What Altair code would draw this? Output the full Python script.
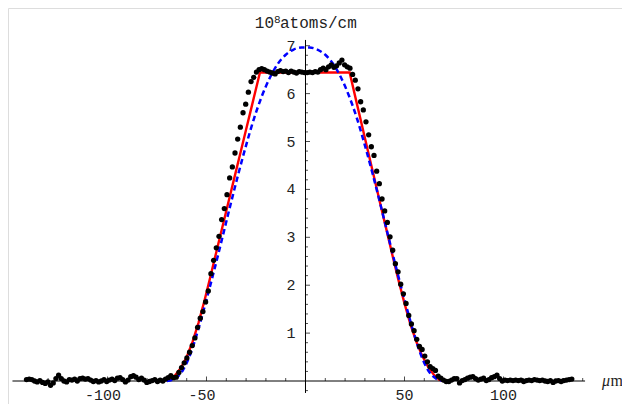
import altair as alt
import pandas as pd

# ---- measured data (black dots), sampled on a uniform grid ----
dots_x_start = -140.9
dots_x_step = 1.35
dots_y = [
    0.03, 0.04, 0.03, 0.00, -0.02, 0.01, -0.03, -0.05, -0.02, -0.09,
    -0.04, 0.05, 0.12, 0.05, 0.00, -0.02, 0.03, 0.02, 0.04, 0.00,
    0.05, 0.06, 0.04, 0.05, 0.02, -0.01, 0.01, -0.02, 0.00, 0.03,
    -0.01, 0.02, 0.04, 0.01, 0.06, 0.07, 0.03, -0.02, 0.02, 0.09,
    0.11, 0.08, 0.03, 0.06, 0.02, -0.03, -0.01, 0.01, 0.03, -0.01,
    0.02, 0.00, 0.04, 0.07, 0.11,
    0.07, 0.08, 0.18, 0.28, 0.38, 0.48, 0.60, 0.74, 0.90, 1.12,
    1.31, 1.45, 1.65, 1.88, 2.24, 2.52, 2.78, 3.02, 3.37, 3.60,
    3.89, 4.24, 4.47, 4.76, 5.05, 5.30, 5.60, 5.78, 6.03, 6.25,
    6.34, 6.45,
    6.50, 6.52, 6.50, 6.47, 6.45, 6.43, 6.41, 6.46, 6.48, 6.46,
    6.47, 6.44, 6.47, 6.45, 6.43, 6.46, 6.45, 6.44,
    6.44, 6.45, 6.44, 6.46, 6.45, 6.50, 6.53, 6.50, 6.56, 6.60,
    6.55, 6.58, 6.64, 6.70, 6.60, 6.56, 6.53, 6.40, 6.28, 6.10,
    5.83, 5.66, 5.41, 5.14, 4.89, 4.71, 4.38, 4.12, 3.80, 3.55,
    3.31, 3.01, 2.73, 2.45, 2.28, 2.02, 1.82, 1.62, 1.37, 1.19,
    1.05, 0.87, 0.72, 0.66, 0.52, 0.40, 0.30, 0.26, 0.22, 0.10,
    0.06, 0.02, -0.01, -0.01, 0.02, 0.05, 0.05,
    -0.04, 0.01, 0.03, 0.06, 0.08, 0.09, 0.05, 0.02, 0.04, 0.06,
    0.01, 0.03, 0.07, 0.09, 0.12, 0.05, 0.00, 0.02, 0.01, 0.02,
    0.01, 0.02, 0.01, 0.02, -0.01, 0.01, 0.02, 0.01, 0.03, 0.02,
    0.01, 0.02, 0.00, -0.01, 0.01, -0.03, 0.00, 0.01, -0.01, 0.01,
    0.02, 0.03, 0.04,
]
dots_x = [round(dots_x_start + dots_x_step * i, 2) for i in range(len(dots_y))]

# ---- red (solid) model curve ----
red_x = [-70, -68, -66, -63, -60, -57, -54, -51, -48, -45, -42, -39, -36, -33,
         -30, -27, -23, 22.3, 26, 29, 32, 35, 38, 41, 44, 47, 50, 53, 56, 59,
         62, 65, 67.5, 69.8]
red_y = [0.0, 0.04, 0.11, 0.27, 0.50, 0.82, 1.22, 1.68, 2.18, 2.70, 3.21, 3.72,
         4.23, 4.74, 5.25, 5.76, 6.44, 6.44, 5.78, 5.25, 4.72, 4.19, 3.66, 3.14,
         2.61, 2.10, 1.62, 1.18, 0.82, 0.52, 0.29, 0.12, 0.03, 0.0]

# ---- blue (dashed) model curve ----
blue_x = [-70, -66, -62, -58, -54, -50, -46, -42, -38, -34, -30, -26, -22, -18,
          -14, -10, -6, -2, 2, 6, 10, 14, 18, 22, 26, 30, 34, 38, 42, 46, 50,
          54, 58, 62, 66, 70]
blue_y = [0.0, 0.05, 0.22, 0.58, 1.10, 1.70, 2.33, 2.99, 3.66, 4.31, 4.92, 5.48,
          5.95, 6.33, 6.62, 6.81, 6.92, 6.96, 6.96, 6.92, 6.81, 6.62, 6.33, 5.95,
          5.48, 4.92, 4.31, 3.66, 2.99, 2.33, 1.70, 1.10, 0.58, 0.22, 0.05, 0.0]

# ---- axes ----
x_major_ticks = [-100, -50, 50, 100]
x_major_labels = ["-100", "-50", "50", "100"]
x_minor_ticks = [v for v in range(-140, 141, 10) if v != 0 and v % 50 != 0]
y_major_ticks = [1, 2, 3, 4, 5, 6, 7]
y_major_labels = ["1", "2", "3", "4", "5", "6", "7"]
y_minor_ticks = [round(-0.2 + 0.2 * k, 1) for k in range(37)]
y_minor_ticks = [v for v in y_minor_ticks if abs(v - round(v)) > 1e-6]
x_axis_range = [-148.0, 141.2]
y_axis_range = [-0.25, 7.12]

W, H = 614, 396
xs = alt.Scale(domain=[-150.25, 159.85], nice=False, zero=False)
ys = alt.Scale(domain=[-0.480, 7.787], nice=False, zero=False)

def X(f):
    return alt.X(f, type="quantitative", scale=xs, axis=None)

def Y(f):
    return alt.Y(f, type="quantitative", scale=ys, axis=None)

df_dots = pd.DataFrame({"x": dots_x, "y": dots_y})
df_red = pd.DataFrame({"x": red_x, "y": red_y})
df_blue = pd.DataFrame({"x": blue_x, "y": blue_y})

TXT = "#222222"
MONO = "Liberation Mono"

xaxis = alt.Chart(pd.DataFrame({"x": [x_axis_range[0]], "x2": [x_axis_range[1]], "y": [0]})).mark_rule(
    color="black", strokeWidth=1).encode(x=X("x"), x2="x2", y=Y("y"))
yaxis = alt.Chart(pd.DataFrame({"x": [0], "y": [y_axis_range[0]], "y2": [y_axis_range[1]]})).mark_rule(
    color="black", strokeWidth=1).encode(x=X("x"), y=Y("y"), y2="y2")

xmaj = alt.Chart(pd.DataFrame({"x": x_major_ticks, "y": [0] * len(x_major_ticks)})).mark_tick(
    orient="vertical", size=4.5, thickness=1, yOffset=-2.25, color="black").encode(x=X("x"), y=Y("y"))
xmin = alt.Chart(pd.DataFrame({"x": x_minor_ticks, "y": [0] * len(x_minor_ticks)})).mark_tick(
    orient="vertical", size=3, thickness=1, yOffset=-1.5, color="black").encode(x=X("x"), y=Y("y"))
ymaj = alt.Chart(pd.DataFrame({"y": y_major_ticks, "x": [0] * len(y_major_ticks)})).mark_tick(
    orient="horizontal", size=4.5, thickness=1, xOffset=2.25, color="black").encode(x=X("x"), y=Y("y"))
ymin = alt.Chart(pd.DataFrame({"y": y_minor_ticks, "x": [0] * len(y_minor_ticks)})).mark_tick(
    orient="horizontal", size=2.5, thickness=1, xOffset=1.25, color="black").encode(x=X("x"), y=Y("y"))

df_xl = pd.DataFrame({"x": x_major_ticks, "t": x_major_labels,
                      "neg": [1 if v < 0 else 0 for v in x_major_ticks]})
xlab_neg = alt.Chart(df_xl[df_xl.neg == 1]).mark_text(
    font=MONO, fontSize=15, color=TXT, align="center", baseline="alphabetic", dx=-4.5).encode(
    x=X("x"), y=alt.value(392), text="t:N")
xlab_pos = alt.Chart(df_xl[df_xl.neg == 0]).mark_text(
    font=MONO, fontSize=15, color=TXT, align="center", baseline="alphabetic").encode(
    x=X("x"), y=alt.value(392), text="t:N")
ylab = alt.Chart(pd.DataFrame({"y": y_major_ticks, "t": y_major_labels})).mark_text(
    font=MONO, fontSize=15, color=TXT, align="right", baseline="middle").encode(
    x=alt.value(287.5), y=Y("y"), text="t:N")

one = pd.DataFrame({"a": [0]})
t10 = alt.Chart(one).mark_text(text="10", font=MONO, fontSize=16, color=TXT, align="right",
                               baseline="alphabetic").encode(x=alt.value(266), y=alt.value(20))
t8 = alt.Chart(one).mark_text(text="8", font=MONO, fontSize=11, color=TXT, align="left",
                              baseline="alphabetic").encode(x=alt.value(266), y=alt.value(14.5))
tunit = alt.Chart(one).mark_text(text="atoms/cm", font=MONO, fontSize=16, color=TXT, align="left",
                                 baseline="alphabetic").encode(x=alt.value(272), y=alt.value(20))
mu = alt.Chart(one).mark_text(text="μ", font="Liberation Serif", fontSize=16, fontStyle="italic",
                              color=TXT, align="left", baseline="middle").encode(
    x=alt.value(594), y=alt.value(373))
mm = alt.Chart(one).mark_text(text="m", font="Liberation Serif", fontSize=16, color=TXT,
                              align="left", baseline="middle").encode(x=alt.value(602.5), y=alt.value(373))

red = alt.Chart(df_red).mark_line(color="#ff0000", strokeWidth=2.4).encode(x=X("x"), y=Y("y"))
blue = alt.Chart(df_blue).mark_line(color="#0000ff", strokeWidth=2.5, strokeDash=[5.5, 3.5],
                                    interpolate="monotone").encode(x=X("x"), y=Y("y"))
dots = alt.Chart(df_dots).mark_circle(size=28, color="black", opacity=1).encode(x=X("x"), y=Y("y"))

chart = alt.layer(
    xaxis, yaxis, xmaj, xmin, ymaj, ymin, xlab_neg, xlab_pos, ylab,
    t10, t8, tunit, mu, mm, red, blue, dots
).properties(
    width=W, height=H, padding=0, autosize=alt.AutoSizeParams(type="none")
).configure_view(stroke=None).configure(background="white")

chart.save("out.html", embed_options={"renderer": "svg", "actions": False})
